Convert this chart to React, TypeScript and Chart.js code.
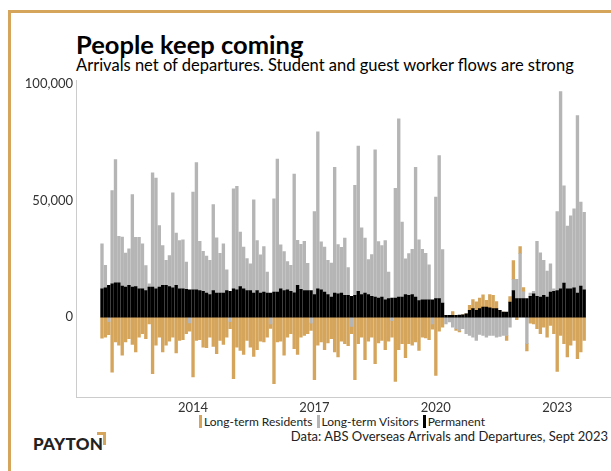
import React, { useEffect, useRef } from 'react';
import { Chart, registerables } from 'chart.js';

Chart.register(...registerables);

// Monthly observations, Oct 2011 – Sep 2023
const START_YEAR = 2011;
const START_MONTH = 10;
const N_MONTHS = 144;
const months: string[] = [];
for (let i = 0; i < N_MONTHS; i++) {
  const m = START_MONTH - 1 + i;
  const y = START_YEAR + Math.floor(m / 12);
  const mm = (m % 12) + 1;
  months.push(`${y}-${mm < 10 ? '0' + mm : mm}`);
}

const permanent = [
  12100, 12600, 13600, 14300, 14700, 14700, 13300, 12900, 13600, 12900, 13100, 12100,
  12100, 11400, 12900, 12900, 12100, 12900, 13600, 13600, 13100, 12600, 13600, 12100,
  12100, 11900, 11700, 11700, 11700, 11400, 11100, 10300, 9700, 11400, 10300, 10300,
  10300, 11400, 11100, 12100, 11700, 13100, 12100, 11400, 11400, 10300, 11400, 10300,
  10700, 10300, 10300, 10700, 10700, 12100, 11400, 11700, 11100, 10400, 13600, 11900,
  11400, 11400, 11400, 9700, 12100, 11700, 10700, 9700, 8600, 10300, 10000, 10300,
  9300, 9300, 8900, 9300, 11000, 9700, 10300, 9700, 8900, 8600, 8100, 8600,
  7400, 7900, 8100, 8100, 8600, 8600, 9700, 9300, 9700, 8600, 7100, 7400,
  7400, 7400, 7400, 7900, 7900, 6000, 700, 700, 700, 700, 850, 1000,
  1400, 2900, 3600, 2900, 3600, 4300, 4300, 4000, 3600, 3600, 2900, 2100,
  2100, 6400, 11400, 7900, 7900, 7900, 7900, 8900, 10000, 8900, 8600, 9300,
  8600, 10700, 11100, 11400, 12100, 14600, 12100, 12100, 12600, 10300, 13300, 11700,
];

const visitors = [
  19300, 9600, -2000, 40000, 52900, 20000, 21000, 14600, 15700, 39700, 21100, 22100,
  19300, 10700, 1400, 49000, 47500, 26400, 17100, 10700, 13300, 40700, 22400, 20700,
  21000, 11700, -2500, 41900, 54600, 21100, 17100, 15900, 14600, 36900, 23700, 17100,
  21100, 8900, -2000, 42900, 44400, 23400, 17900, 13700, 11400, 40000, 21400, 16400,
  19600, 9000, -2900, 40000, 57100, 18900, 16700, 12100, 11100, 51000, 19300, 19300,
  21100, 11700, -2600, 35600, 67400, 20600, 19300, 14600, 14600, 54000, 21100, 19600,
  24600, 11900, -4000, 47200, 62400, 28600, 23600, 15000, 17900, 63200, 24300, 22100,
  25400, 11400, -1500, 47200, 76500, 32200, 15300, 17900, 19400, 55700, 26000, 21700,
  20000, 15000, -2900, 43600, 61400, 23000, -2900, -2100, -4300, -5000, -5700, -5000,
  -7100, -7900, -8600, -10000, -7400, -7900, -8600, -7900, -7900, -8600, -8300, -7900,
  -7900, -4300, 4700, 8300, 19300, 2900, -11400, 1400, 1000, 23600, 19000, 15000,
  11100, 12100, 1000, 33900, 84700, 41700, 26900, 31400, 33900, 76200, 36000, 33300,
];

const residents = [
  -9000, -8600, -5600, -23600, -10700, -12100, -16400, -10700, -9300, -11700, -15000, -8600,
  -7100, -9300, -2900, -24300, -12100, -8600, -15000, -12100, -10300, -8600, -15400, -10000,
  -9700, -7100, -3500, -25700, -10000, -9700, -12900, -13100, -8600, -12600, -15700, -10000,
  -11700, -8600, -3000, -26400, -12900, -14300, -16000, -10000, -12900, -16900, -14000, -10300,
  -10700, -8600, -2000, -28600, -10700, -10300, -16400, -8600, -7100, -13600, -16000, -8600,
  -7900, -7100, -3100, -26900, -12100, -10700, -14000, -11100, -9300, -15000, -17100, -10300,
  -11400, -12300, -3100, -26900, -11400, -8600, -18300, -10300, -8600, -20000, -11100, -10000,
  -14000, -10300, -7100, -27600, -14000, -11400, -17400, -11400, -12100, -10700, -14300, -8600,
  -8900, -9700, -2300, -25000, -6000, -4300, 0, 0, 1700, -700, -700, 0,
  0, 2100, 3900, 3600, 4600, 5300, 2900, 5700, 5700, 3000, 0, 0,
  -2100, 2400, 8100, -1100, 3100, 1900, -3100, -2600, -2900, -5000, -7100, -4300,
  -8600, -3600, -7100, -23300, -7900, -11400, -17100, -12100, -10000, -17900, -15000, -10000,
];

const tickYears = ['2014', '2017', '2020', '2023'];
const yTicks = [0, 50000, 100000];

const GOLD = '#d5a55c';
const GREY = '#b5b5b5';
const BLACK = '#000000';
const FONT = 'Lato, "Open Sans", sans-serif';

const legendItems = [
  { label: 'Long-term Residents', color: GOLD },
  { label: 'Long-term Visitors', color: GREY },
  { label: 'Permanent', color: BLACK },
];

export default function App() {
  const canvasRef = useRef<HTMLCanvasElement | null>(null);

  useEffect(() => {
    if (!canvasRef.current) return;
    const tickIdx = tickYears.map((y) => months.indexOf(`${y}-01`));
    const toPts = (arr: number[]) => arr.map((v, i) => ({ x: i, y: v }));
    const barOpts = { barThickness: 2.7, borderWidth: 0 };
    const chart = new Chart(canvasRef.current, {
      type: 'bar',
      data: {
        datasets: [
          { label: 'Permanent', data: toPts(permanent), backgroundColor: BLACK, ...barOpts },
          { label: 'Long-term Visitors', data: toPts(visitors), backgroundColor: GREY, ...barOpts },
          { label: 'Long-term Residents', data: toPts(residents), backgroundColor: GOLD, ...barOpts },
        ],
      },
      options: {
        animation: false,
        responsive: true,
        maintainAspectRatio: false,
        layout: { padding: { top: 10, left: 0, right: 0, bottom: 0 } },
        plugins: { legend: { display: false }, tooltip: { enabled: false } },
        scales: {
          x: {
            type: 'linear',
            stacked: true,
            min: -7.71,
            max: 150.95,
            offset: false,
            grid: { display: false, drawTicks: false },
            border: { display: true, color: '#cccccc', width: 1 },
            afterBuildTicks: (s: any) => {
              s.ticks = tickIdx.map((v) => ({ value: v }));
            },
            afterFit: (s: any) => {
              s.height = 16;
            },
            ticks: {
              autoSkip: false,
              maxRotation: 0,
              padding: 3,
              color: '#333333',
              font: { family: FONT, size: 13 },
              callback: (v: any) => (months[v] ? months[v].slice(0, 4) : ''),
            },
          },
          y: {
            stacked: true,
            min: -34300,
            max: 101400,
            grid: { display: false, drawTicks: false },
            border: { display: true, color: '#cccccc', width: 1 },
            afterBuildTicks: (s: any) => {
              s.ticks = yTicks.map((v) => ({ value: v }));
            },
            afterFit: (s: any) => {
              s.width = 76;
            },
            ticks: {
              padding: 3,
              color: '#333333',
              font: { family: FONT, size: 13 },
              callback: (v: any) => Number(v).toLocaleString('en-US'),
            },
          },
        },
      },
    } as any);
    return () => chart.destroy();
  }, []);

  return (
    <div style={{ position: 'absolute', left: 0, top: 0, width: 611, height: 471, background: '#fff', overflow: 'hidden', fontFamily: FONT }}>
      <div style={{ position: 'absolute', left: 8, top: 10, width: 610, height: 470, borderTop: `3px solid ${GOLD}`, borderLeft: `3px solid ${GOLD}` }} />
      <div style={{ position: 'absolute', left: 76, top: 29, fontSize: 25.5, fontWeight: 700, color: '#000', whiteSpace: 'nowrap', lineHeight: '30px' }}>
        People keep coming
      </div>
      <div style={{ position: 'absolute', left: 76, top: 55, fontSize: 16.5, color: '#000', whiteSpace: 'nowrap', lineHeight: '20px' }}>
        Arrivals net of departures. Student and guest worker flows are strong
      </div>
      <div style={{ position: 'absolute', left: 0, top: 70, width: 611, height: 343 }}>
        <canvas ref={canvasRef} />
      </div>
      <div style={{ position: 'absolute', left: 199, top: 413, height: 16, display: 'flex', alignItems: 'center', fontSize: 12, color: '#222', whiteSpace: 'nowrap' }}>
        {legendItems.map((it) => (
          <span key={it.label} style={{ display: 'inline-flex', alignItems: 'center', marginRight: 4 }}>
            <span style={{ display: 'inline-block', width: 3, height: 13, background: it.color, marginRight: 2 }} />
            {it.label}
          </span>
        ))}
      </div>
      <div style={{ position: 'absolute', right: 3, top: 428, fontSize: 13, color: '#222', whiteSpace: 'nowrap', lineHeight: '16px' }}>
        Data: ABS Overseas Arrivals and Departures, Sept 2023
      </div>
      <div style={{ position: 'absolute', left: 33, top: 435, fontSize: 17, fontWeight: 900, color: '#222', letterSpacing: 0.3, lineHeight: '18px' }}>
        PAYTON
      </div>
      <div style={{ position: 'absolute', left: 97, top: 432, width: 6, height: 10, borderTop: `3px solid ${GOLD}`, borderRight: `3px solid ${GOLD}` }} />
    </div>
  );
}
